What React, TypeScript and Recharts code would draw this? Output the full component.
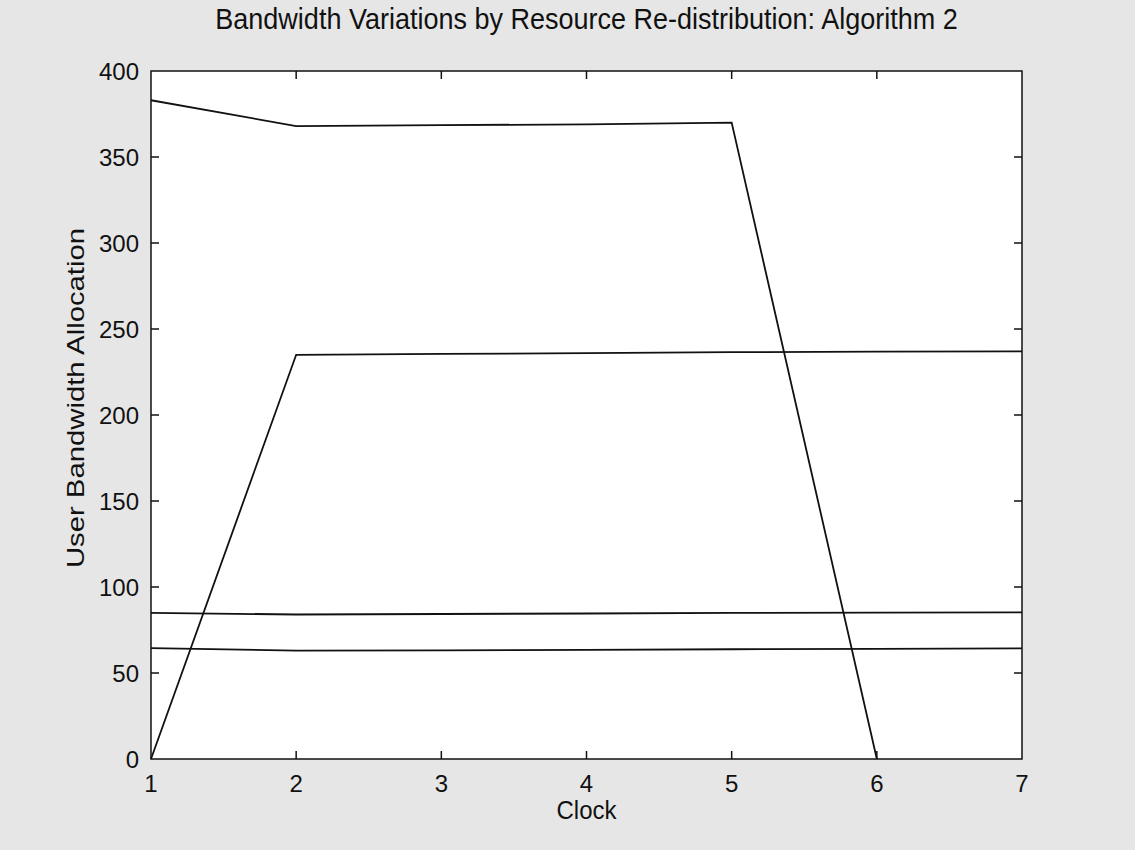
import React from 'react';
import { LineChart, Line, XAxis, YAxis, ReferenceArea, ReferenceLine, CartesianGrid } from 'recharts';

const clock = [1, 2, 3, 4, 5, 6, 7];
const userA = [383, 368, 368.5, 369, 370, 0, null];
const userB = [0, 235, 235.5, 236, 236.5, 236.8, 237];
const userC = [85, 84, 84.3, 84.6, 84.9, 85.1, 85.3];
const userD = [64.5, 63, 63.2, 63.5, 63.8, 64, 64.3];

const xTicks = [1, 2, 3, 4, 5, 6, 7];
const yTicks = [0, 50, 100, 150, 200, 250, 300, 350, 400];

const data = clock.map((c, i) => ({
  clock: c,
  a: userA[i],
  b: userB[i],
  c: userC[i],
  d: userD[i],
}));

const xMin = xTicks[0];
const xMax = xTicks[xTicks.length - 1];
const yMin = yTicks[0];
const yMax = yTicks[yTicks.length - 1];
// inward tick length, about 8px on either axis
const tickX = ((xMax - xMin) * 8) / 871;
const tickY = ((yMax - yMin) * 8) / 688;

const font = '"Liberation Sans", Arial, sans-serif';
const ink = '#111';
const tickStyle = { fill: ink, fontSize: 24, fontFamily: font };

export default function App() {
  return (
    <div style={{ position: 'fixed', left: 0, top: 0, width: 1135, height: 850, background: '#e6e6e6', fontFamily: font }}>
      <LineChart width={1135} height={850} data={data} margin={{ top: 71, right: 113, left: 91, bottom: 51 }}>
        <CartesianGrid horizontal={false} vertical={false} fill="#ffffff" stroke="none" />
        <XAxis
          dataKey="clock"
          type="number"
          domain={[xMin, xMax]}
          ticks={xTicks}
          height={40}
          tickSize={0}
          tickLine={false}
          axisLine={false}
          tickMargin={16}
          tick={tickStyle}
          interval={0}
        />
        <YAxis
          type="number"
          domain={[yMin, yMax]}
          ticks={yTicks}
          width={60}
          tickSize={0}
          tickLine={false}
          axisLine={false}
          tickMargin={12}
          tick={tickStyle}
          interval={0}
        />
        <ReferenceArea x1={xMin} x2={xMax} y1={yMin} y2={yMax} fill="none" stroke={ink} strokeWidth={1.5} />
        {xTicks.slice(1, -1).map((t) => (
          <ReferenceLine key={`xb${t}`} segment={[{ x: t, y: yMin }, { x: t, y: yMin + tickY }]} stroke={ink} strokeWidth={1.5} />
        ))}
        {xTicks.slice(1, -1).map((t) => (
          <ReferenceLine key={`xt${t}`} segment={[{ x: t, y: yMax }, { x: t, y: yMax - tickY }]} stroke={ink} strokeWidth={1.5} />
        ))}
        {yTicks.slice(1, -1).map((t) => (
          <ReferenceLine key={`yl${t}`} segment={[{ x: xMin, y: t }, { x: xMin + tickX, y: t }]} stroke={ink} strokeWidth={1.5} />
        ))}
        {yTicks.slice(1, -1).map((t) => (
          <ReferenceLine key={`yr${t}`} segment={[{ x: xMax, y: t }, { x: xMax - tickX, y: t }]} stroke={ink} strokeWidth={1.5} />
        ))}
        <Line type="linear" dataKey="a" stroke={ink} strokeWidth={1.8} dot={false} isAnimationActive={false} />
        <Line type="linear" dataKey="b" stroke={ink} strokeWidth={1.8} dot={false} isAnimationActive={false} />
        <Line type="linear" dataKey="c" stroke={ink} strokeWidth={1.8} dot={false} isAnimationActive={false} />
        <Line type="linear" dataKey="d" stroke={ink} strokeWidth={1.8} dot={false} isAnimationActive={false} />
      </LineChart>
      <div style={{ position: 'absolute', left: 151, width: 871, top: 4, textAlign: 'center', fontSize: 27, color: ink, transform: 'scaleY(1.1)' }}>
        Bandwidth Variations by Resource Re-distribution: Algorithm 2
      </div>
      <div style={{ position: 'absolute', left: 151, width: 871, top: 796, textAlign: 'center', fontSize: 24, color: ink, transform: 'scaleY(1.1)' }}>
        Clock
      </div>
      <div
        style={{
          position: 'absolute',
          left: 76,
          top: 398,
          transform: 'translate(-50%, -50%) rotate(-90deg) scaleX(1.22)',
          whiteSpace: 'nowrap',
          fontSize: 24,
          color: ink,
        }}
      >
        User Bandwidth Allocation
      </div>
    </div>
  );
}
